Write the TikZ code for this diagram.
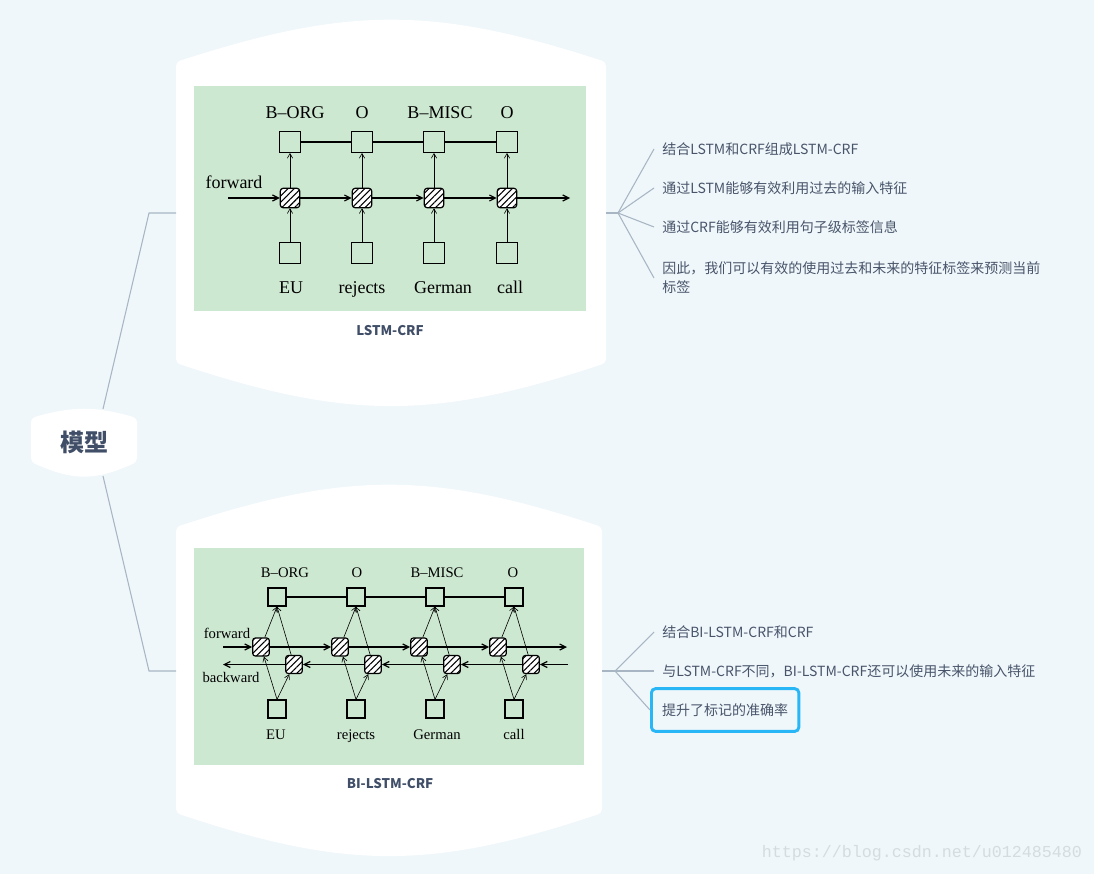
\documentclass[tikz,border=0pt]{standalone}
\usepackage{fontspec}
\setmainfont{Liberation Serif}
\newfontfamily\cjk{Noto Sans CJK SC}
\newfontfamily\wmfont{Liberation Mono}
\usetikzlibrary{arrows.meta,patterns.meta}

\definecolor{bgblue}{RGB}{239,247,250}
\definecolor{cardgreen}{RGB}{205,232,209}
\definecolor{itemtext}{RGB}{72,84,106}
\definecolor{titletext}{RGB}{64,78,104}
\definecolor{linegray}{RGB}{168,182,196}
\definecolor{hlblue}{RGB}{40,182,246}
\definecolor{wmgray}{RGB}{212,220,224}

\tikzset{
  mmline/.style={draw=linegray, line width=0.8pt},
  item/.style={anchor=west, text=itemtext, inner xsep=6pt, inner ysep=0pt,
    font=\cjk\fontsize{10.5}{14.25}\selectfont},
  cardlabel/.style={text=titletext, font=\cjk\bfseries\fontsize{10}{12}\selectfont},
  tagbox/.style={draw, line width=0.9pt, minimum size=15.5pt, inner sep=0pt},
  cell/.style={draw, line width=0.9pt, rounded corners=2pt, minimum size=14.5pt,
    inner sep=0pt, preaction={fill=white},
    pattern={Lines[angle=45,distance=3.4pt,line width=0.8pt]}},
  arr/.style={-{Straight Barb[length=3.5pt,width=4pt]}, line width=0.45pt},
  chainarr/.style={-{Straight Barb[length=4.5pt,width=4.5pt]}, line width=0.9pt},
}

\begin{document}
\begin{tikzpicture}[x=0.75pt,y=-0.75pt]
  \fill[bgblue] (0,0) rectangle (1094,874);
  \useasboundingbox (0,0) rectangle (1094,874);

  % white cards
  \fill[white, rounded corners=3pt] (176,62) .. controls (348,6) and (434,6) .. (606,62)
    -- (606,363) .. controls (434,420) and (348,420) .. (176,363) -- cycle;
  \fill[white, rounded corners=3pt] (176,527) .. controls (346,471) and (432,471) .. (602,527)
    -- (602,813) .. controls (432,870) and (346,870) .. (176,813) -- cycle;
  \fill[white, rounded corners=3pt] (31,418) .. controls (73,406) and (95,406) .. (137,418)
    -- (137,462) .. controls (95,481) and (73,481) .. (31,462) -- cycle;

  \node[text=titletext, font=\cjk\bfseries\fontsize{18}{20}\selectfont] (root) at (84,442) {模型};

  % left connectors
  \coordinate (rt) at (103,409);
  \coordinate (rb) at (103,476);
  \coordinate (j1) at (149,213);
  \coordinate (j2) at (149,671);
  \coordinate (card1w) at (176,213);
  \coordinate (card2w) at (176,671);
  \draw[mmline] (rt) -- (j1) -- (card1w);
  \draw[mmline] (rb) -- (j2) -- (card2w);

  % LSTM-CRF
  \fill[cardgreen] (194,86) rectangle (586,311);
  \foreach \i/\x/\tx/\tag/\wx/\word in {1/290/295/B--ORG/291/EU, 2/362/362/O/362/rejects,
      3/434/440/B--MISC/443/German, 4/507/507/O/510/call} {
    \node[tagbox] (a\i) at (\x,142) {};
    \node[cell] (h\i) at (\x,198) {};
    \node[tagbox] (x\i) at (\x,253) {};
    \node[anchor=base, font=\fontsize{13.5}{16}\selectfont] (al\i) at (\tx,118) {\tag};
    \node[anchor=base, font=\fontsize{13.5}{16}\selectfont] (xl\i) at (\wx,293) {\word};
    \draw[arr] (h\i) -- (a\i);
    \draw[arr] (x\i) -- (h\i);
  }
  \draw[line width=1pt] (a1) -- (a2) -- (a3) -- (a4);
  \coordinate (fin) at (228,198);
  \coordinate (fout) at (570,198);
  \foreach \p/\q in {fin/h1, h1/h2, h2/h3, h3/h4, h4/fout}
    \draw[chainarr] (\p) -- (\q);
  \node[font=\fontsize{13.5}{16}\selectfont] (fwd1) at (234,182) {forward};
  \node[cardlabel] (lab1) at (390,331) {LSTM-CRF};

  % BI-LSTM-CRF
  \fill[cardgreen] (194,548) rectangle (584,765);
  \foreach \i/\x/\tx/\tag/\wx/\word in {1/277/285/B--ORG/276/EU, 2/356/357/O/356/rejects,
      3/435/437/B--MISC/437/German, 4/514/513/O/514/call} {
    \node[tagbox, minimum size=13.5pt] (b\i) at (\x,597) {};
    \node[cell, minimum width=12.5pt, minimum height=13.5pt] (f\i) at (\x-16,647) {};
    \node[cell, minimum width=12.5pt, minimum height=13.5pt] (g\i) at (\x+17,664.5) {};
    \node[tagbox, minimum size=13.5pt] (y\i) at (\x,709) {};
    \node[anchor=base, font=\fontsize{11}{13}\selectfont] (bl\i) at (\tx,577) {\tag};
    \node[anchor=base, font=\fontsize{11}{13}\selectfont] (yl\i) at (\wx,739) {\word};
    \draw[arr] (y\i.north) -- (f\i);
    \draw[arr] (y\i.north) -- (g\i);
    \draw[arr] (f\i) -- (b\i.south);
    \draw[arr] (g\i) -- (b\i.south);
  }
  \draw[line width=1pt] (b1) -- (b2) -- (b3) -- (b4);
  \coordinate (fin2) at (223,647);
  \coordinate (fout2) at (567,647);
  \coordinate (bin2) at (568,664.5);
  \coordinate (bout2) at (223,664.5);
  \foreach \p/\q in {fin2/f1, f1/f2, f2/f3, f3/f4, f4/fout2, bin2/g4, g4/g3, g3/g2, g2/g1, g1/bout2}
    \draw[chainarr] (\p) -- (\q);
  \node[font=\fontsize{11}{13}\selectfont] (fwd2) at (227,633) {forward};
  \node[font=\fontsize{11}{13}\selectfont] (bwd2) at (231,677) {backward};
  \node[cardlabel] (lab2) at (390,784) {BI-LSTM-CRF};

  % right items, top
  \coordinate (card1e) at (606,213);
  \coordinate (k1) at (618,213);
  \node[item] (i11) at (654,149) {结合LSTM和CRF组成LSTM-CRF};
  \node[item] (i12) at (654,188) {通过LSTM能够有效利用过去的输入特征};
  \node[item] (i13) at (654,227) {通过CRF能够有效利用句子级标签信息};
  \node[item, align=left] (i14) at (654,278) {因此，我们可以有效的使用过去和未来的特征标签来预测当前\\标签};
  \draw[mmline] (card1e) -- (k1);
  \foreach \n in {i11,i12,i13,i14}
    \draw[mmline] (k1) -- (\n.west);

  % right items, bottom
  \coordinate (card2e) at (602,671);
  \coordinate (k2) at (615,671);
  \node[item] (i21) at (654,632) {结合BI-LSTM-CRF和CRF};
  \node[item] (i22) at (654,671) {与LSTM-CRF不同，BI-LSTM-CRF还可以使用未来的输入特征};
  \node[item, draw=hlblue, line width=2.2pt, rounded corners=3pt, inner xsep=8pt,
    minimum height=32pt] (i23) at (650,710) {提升了标记的准确率};
  \draw[mmline] (card2e) -- (k2);
  \foreach \n in {i21,i22,i23}
    \draw[mmline] (k2) -- (\n.west);

  \node[text=wmgray, font=\wmfont\fontsize{12.5}{14}\selectfont] (wm) at (922,853) {https://blog.csdn.net/u012485480};
\end{tikzpicture}
\end{document}
